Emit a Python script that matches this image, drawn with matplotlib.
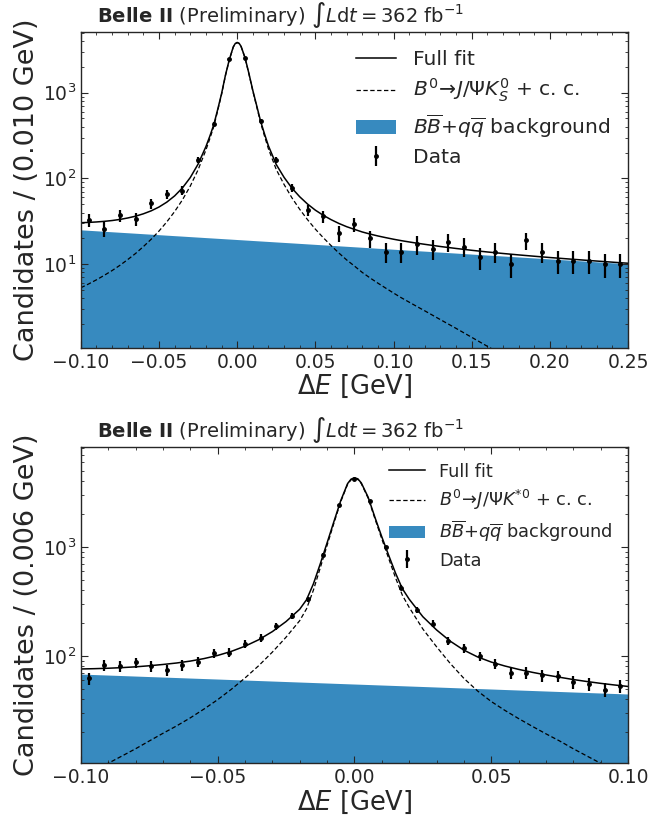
import numpy as np
import matplotlib
matplotlib.use("Agg")
import matplotlib.pyplot as plt
from matplotlib.ticker import MultipleLocator, LogLocator

# ---- top panel: B0 -> J/psi K0S, 0.010 GeV bins ----
bins_top = np.linspace(-0.095, 0.245, 35)
counts_top = [33, 26, 37, 34, 51, 65, 72, 166, 436, 2455, 2570, 470, 166, 78, 43,
              36, 23, 29, 20, 14, 14, 17, 15, 18, 16, 12, 14, 10, 19, 14, 11, 11,
              11, 10, 10]

x_fit_top = [-0.100, -0.095, -0.090, -0.085, -0.080, -0.075, -0.070, -0.065, -0.060,
             -0.055, -0.050, -0.045, -0.040, -0.035, -0.030, -0.025, -0.020,
             -0.0175, -0.015, -0.0125, -0.010, -0.0075, -0.005, -0.0025, -0.00125,
             0.0, 0.00125, 0.0025, 0.005, 0.0075, 0.010, 0.0125, 0.015, 0.0175,
             0.020, 0.025, 0.030, 0.035, 0.040, 0.045, 0.050, 0.055, 0.060, 0.065,
             0.070, 0.075, 0.080, 0.085, 0.090, 0.095, 0.100, 0.105, 0.110, 0.115,
             0.120, 0.13, 0.14, 0.15, 0.16, 0.17, 0.18, 0.19, 0.20, 0.21, 0.22,
             0.23, 0.24, 0.25]
sig_top = [5.3, 5.87, 6.56, 7.40, 8.41, 9.68, 11.3, 13.3, 16.0,
           19.5, 24.3, 31.1, 41.0, 56.2, 81.3, 126, 214,
           290, 400, 612, 950, 1580, 2420, 3400, 3720,
           3835, 3745, 3450, 2550, 1660, 1045, 685, 445, 311,
           221, 127, 84.9, 59.4, 43.6, 33.0, 25.6, 20.4, 16.5, 13.5,
           11.2, 9.5, 8.0, 6.9, 6.0, 5.25, 4.6, 4.05, 3.6, 3.2,
           2.85, 2.25, 1.78, 1.40, 1.10, 0.87, 0.69, 0.55, 0.44, 0.35, 0.28,
           0.22, 0.18, 0.14]
bkg_top = [25.12, 24.80, 24.48, 24.15, 23.84, 23.53, 23.23, 22.93, 22.63,
           22.34, 22.05, 21.76, 21.48, 21.21, 20.93, 20.66, 20.39,
           20.26, 20.13, 20.00, 19.87, 19.74, 19.62, 19.49, 19.43,
           19.36, 19.30, 19.24, 19.11, 18.99, 18.86, 18.74, 18.62, 18.50,
           18.38, 18.14, 17.91, 17.68, 17.45, 17.22, 17.00, 16.78, 16.56, 16.35,
           16.14, 15.93, 15.72, 15.52, 15.31, 15.12, 14.92, 14.73, 14.54, 14.35,
           14.17, 13.80, 13.45, 13.10, 12.76, 12.44, 12.12, 11.81, 11.50, 11.21, 10.92,
           10.64, 10.36, 10.10]

# ---- bottom panel: B0 -> J/psi K*0, 35 bins in [-0.1, 0.1] ----
edges_bot = np.linspace(-0.1, 0.1, 36)
bins_bot = 0.5 * (edges_bot[1:] + edges_bot[:-1])
counts_bot = [62, 82, 80, 87, 80, 74, 82, 88, 105, 107, 129, 146, 186, 231, 331,
              845, 2415, 4150, 2625, 987, 421, 262, 197, 138, 117, 99, 84, 69, 70,
              66, 65, 57, 55, 49, 53]

x_fit_bot = [-0.100, -0.095, -0.090, -0.085, -0.080, -0.075, -0.070, -0.065, -0.060,
             -0.055, -0.050, -0.045, -0.040, -0.035, -0.030, -0.025, -0.020,
             -0.0175, -0.015, -0.0125, -0.010, -0.0075, -0.005, -0.0025, -0.00125,
             0.0, 0.00125, 0.0025, 0.005, 0.0075, 0.010, 0.0125, 0.015, 0.0175,
             0.020, 0.025, 0.030, 0.035, 0.040, 0.045, 0.050, 0.055, 0.060, 0.065,
             0.070, 0.075, 0.080, 0.085, 0.090, 0.095, 0.100]
sig_bot = [7.7, 8.9, 10.3, 12.0, 14.0, 16.5, 19.4, 22.7, 26.9,
           32.4, 39.5, 49.2, 62.5, 81, 108, 148, 210,
           270, 400, 640, 1030, 1650, 2600, 3750, 4120,
           4245, 4150, 3805, 2800, 1806, 1180, 783, 521, 360,
           278, 176, 121, 85, 62, 47.5, 38, 31.5, 26.5, 22.5,
           19.2, 16.5, 14.0, 12.0, 10.3, 8.9, 7.7]
bkg_bot = [67.92, 67.21, 66.51, 65.81, 65.12, 64.43, 63.76, 63.10, 62.43,
           61.78, 61.14, 60.49, 59.86, 59.23, 58.61, 57.99, 57.38,
           57.08, 56.78, 56.48, 56.19, 55.89, 55.60, 55.31, 55.16,
           55.02, 54.88, 54.74, 54.45, 54.16, 53.88, 53.60, 53.32, 53.04,
           52.76, 52.21, 51.66, 51.11, 50.57, 50.04, 49.52, 48.99, 48.48, 47.97,
           47.47, 46.97, 46.48, 45.99, 45.51, 45.03, 44.57]

bkg_color = "#378abf"
text_color = "#262626"


def draw_panel(ax, bins, counts, x_fit, sig, bkg, xlim, ylim, ylabel, sig_label,
               leg_size):
    x_fit = np.array(x_fit)
    sig = np.array(sig)
    bkg = np.array(bkg)
    counts = np.array(counts, dtype=float)

    ax.fill_between(x_fit, 1e-3, bkg, color=bkg_color, lw=0,
                    label=r"$B\overline{B}{+}q\overline{q}$ background")
    ax.plot(x_fit, sig + bkg, color="black", lw=1.1, label="Full fit")
    ax.plot(x_fit, sig, color="black", lw=0.9, ls=(0, (3.5, 2)), label=sig_label)
    ax.errorbar(bins, counts, yerr=np.sqrt(counts), fmt="o", color="black",
                ms=2.5, elinewidth=1.6, capsize=0, label="Data")

    ax.set_yscale("log")
    ax.set_xlim(*xlim)
    ax.set_ylim(*ylim)
    ax.xaxis.set_major_locator(MultipleLocator(0.05))
    ax.xaxis.set_minor_locator(MultipleLocator(0.01))
    ax.yaxis.set_minor_locator(LogLocator(base=10, subs=np.arange(2, 10)))
    ax.tick_params(which="both", direction="in", top=True, right=True,
                   labelsize=13.5, colors=text_color)
    ax.tick_params(which="major", length=5)
    ax.tick_params(which="minor", length=2.5)
    for s in ax.spines.values():
        s.set_linewidth(1.0)
        s.set_color(text_color)

    ax.set_xlabel(r"$\Delta E$ [GeV]", fontsize=18.5, color=text_color, labelpad=1)
    ax.set_ylabel(ylabel, fontsize=19.5, color=text_color, labelpad=2)

    ax.text(0.03, 1.004,
            r"$\mathbf{Belle\ II}$ (Preliminary) " + r"$\int L\mathrm{d}t = 362$ fb$^{-1}$",
            transform=ax.transAxes, fontsize=14, color=text_color, va="bottom", ha="left")

    h, l = ax.get_legend_handles_labels()
    order = [1, 2, 0, 3]
    leg = ax.legend([h[i] for i in order], [l[i] for i in order], loc="upper right",
                    frameon=False, fontsize=leg_size, handlelength=2.0,
                    borderaxespad=0.5, labelspacing=0.4)
    for t in leg.get_texts():
        t.set_color(text_color)


fig = plt.figure(figsize=(6.5, 8.22), dpi=100)
ax1 = fig.add_axes([0.1243, 0.5766, 0.842, 0.3848])
ax2 = fig.add_axes([0.1243, 0.0714, 0.842, 0.3852])

draw_panel(ax1, bins_top, counts_top, x_fit_top, sig_top, bkg_top,
           (-0.1, 0.25), (1.05, 2 * max(counts_top)),
           "Candidates / (0.010 GeV)",
           r"$B^0\!\to\! J/\Psi K^0_S$ + c. c.", 14.6)
draw_panel(ax2, bins_bot, counts_bot, x_fit_bot, sig_bot, bkg_bot,
           (-0.1, 0.1), (10.3, 2 * max(counts_bot)),
           "Candidates / (0.006 GeV)",
           r"$B^0\!\to\! J/\Psi K^{*0}$ + c. c.", 12.8)

fig.savefig("out.png", dpi=100)
